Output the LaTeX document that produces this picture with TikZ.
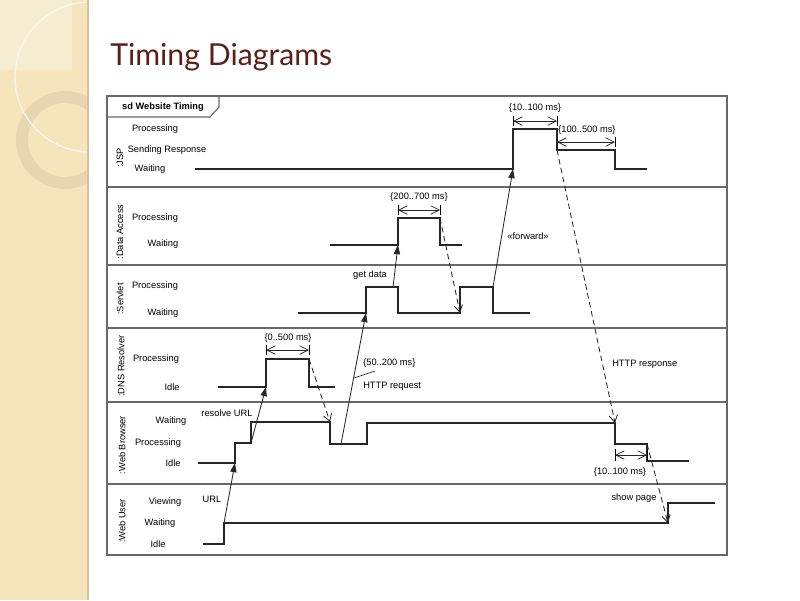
\documentclass[tikz,border=0pt]{standalone}
\usepackage{fontspec}
\setmainfont{Liberation Sans}
\newfontfamily\titlefont{Lato}
\usetikzlibrary{arrows.meta,positioning,calc}
\definecolor{SlideBeige}{RGB}{244,229,188}
\definecolor{SlideLight}{RGB}{246,236,210}
\definecolor{RingTan}{RGB}{228,212,174}
\definecolor{StripEdge}{RGB}{214,196,150}
\definecolor{TitleRed}{RGB}{92,30,24}
\definecolor{FrameGray}{RGB}{105,105,105}
\tikzset{
  lbl/.style={font=\fontsize{6.6}{8}\selectfont,inner sep=0pt},
  lanelbl/.style={lbl,rotate=90},
  frame/.style={draw=FrameGray,line width=0.8pt},
  trace/.style={draw=black!85,line width=0.8pt,line join=miter},
  msg/.style={-{Triangle[length=6.5pt,width=4.5pt]},black!85,line width=0.6pt},
  reply/.style={-{Straight Barb[length=5pt,width=6pt]},black!85,dashed,
    dash pattern=on 4pt off 2.5pt,line width=0.6pt},
  dimarrow/.style={{Straight Barb[length=6pt,width=6pt]}-{Straight Barb[length=6pt,width=6pt]},
    black!85,line width=0.55pt}
}

\begin{document}
\begin{tikzpicture}[x=0.025cm,y=-0.025cm]
  \useasboundingbox (0,0) rectangle (800,600);

  % slide decoration
  \fill[SlideBeige] (0,0) rectangle (88,600);
  \begin{scope}
    \clip (0,0) rectangle (88,600);
    \fill[SlideLight] (0,0) rectangle (72,70);
    \fill[RingTan,opacity=0.85,even odd rule]
      (65,140) circle[radius=49] (65,140) circle[radius=37];
    \draw[white!60!SlideBeige,line width=1pt] (90,77) circle[radius=75];
  \end{scope}
  \draw[StripEdge,line width=1pt] (88,0) -- (88,600);

  \node[font=\titlefont\fontsize{21.5}{24}\selectfont,text=TitleRed,
        anchor=base west,inner sep=0pt] (title) at (110,65) {Timing Diagrams};

  % frame and lanes
  \draw[frame] (107,96) rectangle (727,555);
  \draw[frame] (107,117) -- (210,117) -- (219,107) -- (219,96);
  \node[lbl,font=\fontsize{6.6}{8}\selectfont\bfseries] (sdname) at (163,107) {sd Website Timing};
  \foreach \y in {187,265,328,402,484}
    \draw[frame] (107,\y) -- (727,\y);

  \node[lanelbl] (jsp) at (120,158) {:JSP};
  \node[lanelbl] (dacc) at (120,232) {:Data Access};
  \node[lanelbl] (srv) at (120,299) {:Servlet};
  \node[lanelbl] (dns) at (121,366) {:DNS Resolver};
  \node[lanelbl] (brw) at (122,445) {:Web Browser};
  \node[lanelbl] (usr) at (122,521) {:Web User};

  % state names
  \node[lbl] (jspP) at (155,129) {Processing};
  \node[lbl] (jspS) at (167,150) {Sending Response};
  \node[lbl] (jspW) at (150,169) {Waiting};
  \node[lbl] (daP) at (155,218) {Processing};
  \node[lbl] (daW) at (163,244) {Waiting};
  \node[lbl] (srvP) at (155,286) {Processing};
  \node[lbl] (srvW) at (163,313) {Waiting};
  \node[lbl] (dnsP) at (156,359) {Processing};
  \node[lbl] (dnsI) at (172,387) {Idle};
  \node[lbl] (brwW) at (171,421) {Waiting};
  \node[lbl] (brwP) at (158,443) {Processing};
  \node[lbl] (brwI) at (173,463) {Idle};
  \node[lbl] (usrV) at (165,502) {Viewing};
  \node[lbl] (usrW) at (160,523) {Waiting};
  \node[lbl] (usrI) at (158,544) {Idle};

  % event points
  \coordinate (jspUp) at (513,169);
  \coordinate (jspSend) at (557,150);
  \coordinate (daUp) at (398,245);
  \coordinate (daEnd) at (440,218);
  \coordinate (srvUp) at (366,313);
  \coordinate (srvGet) at (393,287);
  \coordinate (srvBack) at (460,313);
  \coordinate (srvFwd) at (493,287);
  \coordinate (dnsUp) at (266,387);
  \coordinate (dnsEnd) at (309,359);
  \coordinate (brwUp) at (235,463);
  \coordinate (brwRes) at (251,443);
  \coordinate (brwBack) at (330,422);
  \coordinate (brwReq) at (341,444);
  \coordinate (brwResp) at (615,423);
  \coordinate (brwShow) at (647,444);
  \coordinate (usrUp) at (224,523);
  \coordinate (usrBack) at (668,523);

  % lifelines
  \draw[trace] (195,169) -- (513,169) -- (513,129) -- (557,129) -- (557,150)
    -- (615,150) -- (615,169) -- (647,169);
  \draw[trace] (330,245) -- (398,245) -- (398,218) -- (440,218) -- (440,245) -- (462,245);
  \draw[trace] (298,313) -- (366,313) -- (366,287) -- (398,287) -- (398,313)
    -- (460,313) -- (460,287) -- (493,287) -- (493,313) -- (530,313);
  \draw[trace] (218,387) -- (266,387) -- (266,359) -- (309,359) -- (309,387) -- (335,387);
  \draw[trace] (198,463) -- (235,463) -- (235,443) -- (251,443) -- (251,422)
    -- (330,422) -- (330,444) -- (367,444) -- (367,423) -- (615,423)
    -- (615,444) -- (647,444) -- (647,461) -- (689,461);
  \draw[trace] (203,544) -- (224,544) -- (224,523) -- (668,523) -- (668,503) -- (715,503);

  % messages
  \draw[msg] (usrUp) -- (brwUp);
  \draw[msg] (brwRes) -- (dnsUp);
  \draw[msg] (brwReq) -- (srvUp);
  \draw[msg] (srvGet) -- (daUp);
  \draw[msg] (srvFwd) -- (jspUp);
  \draw[reply] (dnsEnd) -- (brwBack);
  \draw[reply] (daEnd) -- (srvBack);
  \draw[reply] (jspSend) -- (brwResp);
  \draw[reply] (brwShow) -- (usrBack);

  \node[lbl] (urlLbl) at (212,499) {URL};
  \node[lbl] (resLbl) at (227,413) {resolve URL};
  \node[lbl,anchor=west] (reqLbl) at (363,386) {HTTP request};
  \node[lbl,anchor=west] (reqTime) at (363,363) {\{50..200 ms\}};
  \draw[black!85,line width=0.5pt] (354,378) -- (375,371);
  \node[lbl] (getLbl) at (370,275) {get data};
  \node[lbl] (fwdLbl) at (528,236) {«forward»};
  \node[lbl,anchor=west] (respLbl) at (612,364) {HTTP response};
  \node[lbl] (showLbl) at (634,498) {show page};

  % durations
  \draw[line width=0.5pt] (266,345) -- (266,355) (309,345) -- (309,355);
  \draw[dimarrow] (266,350) -- (309,350);
  \node[lbl] (dnsTime) at (288,338) {\{0..500 ms\}};
  \draw[line width=0.5pt] (398,205) -- (398,215) (440,205) -- (440,215);
  \draw[dimarrow] (398,210) -- (440,210);
  \node[lbl] (daTime) at (419,197) {\{200..700 ms\}};
  \draw[line width=0.5pt] (513,116) -- (513,126) (557,116) -- (557,126);
  \draw[dimarrow] (513,121) -- (557,121);
  \node[lbl] (jspTimeA) at (535,108) {\{10..100 ms\}};
  \draw[line width=0.5pt] (615,137) -- (615,147);
  \draw[dimarrow] (557,142) -- (615,142);
  \node[lbl,anchor=west] (jspTimeB) at (558,130) {\{100..500 ms\}};
  \draw[line width=0.5pt] (615,449) -- (615,461) (647,449) -- (647,461);
  \draw[dimarrow] (615,455) -- (647,455);
  \node[lbl] (brwTime) at (620,472) {\{10..100 ms\}};
\end{tikzpicture}
\end{document}
